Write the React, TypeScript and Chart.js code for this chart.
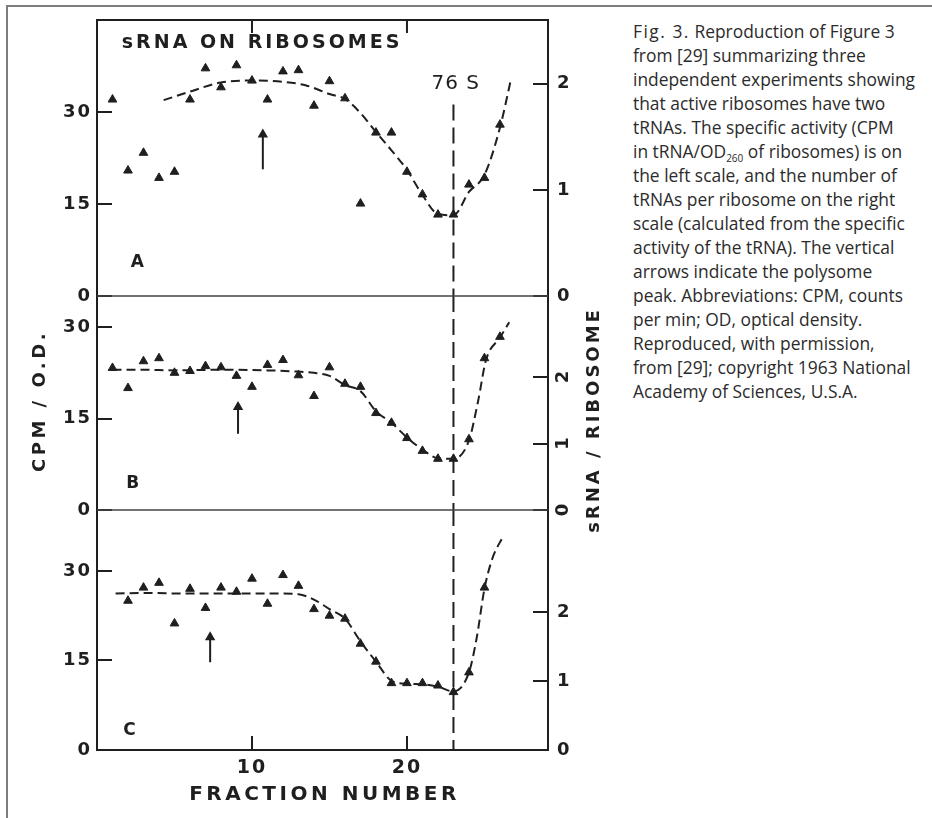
import React, { useEffect, useRef } from 'react';
import { Chart, registerables } from 'chart.js';

Chart.register(...registerables);

const INK = '#1f1f1f';

// ---- Panel A ----
const fractionsA = [1, 2, 3, 4, 5, 6, 7, 8, 9, 10, 11, 12, 13, 14, 15, 16, 17, 18, 19, 20, 21, 22, 23, 24, 25, 26];
const cpmA = [32.1, 20.5, 23.4, 19.3, 20.3, 32.1, 37.2, 34.1, 37.7, 35.2, 32.1, 36.7, 36.9, 31.1, 35.1, 32.3, 15.1, 26.7, 26.7, 20.3, 16.6, 13.3, 13.3, 18.2, 19.3, 28.0];
const curveFractionsA = [4.3, 6, 8, 10, 12, 13.5, 15, 16, 17, 18, 19, 20, 21, 22, 23, 24, 25, 26, 26.7];
const curveCpmA = [32.0, 33.4, 34.9, 35.2, 35.0, 34.4, 33.0, 32.2, 29.9, 26.8, 23.8, 20.6, 16.5, 13.4, 13.2, 17.0, 19.8, 27.5, 35.3];

// ---- Panel B ----
const fractionsB = [1, 2, 3, 4, 5, 6, 7, 8, 9, 10, 11, 12, 13, 14, 15, 16, 17, 18, 19, 20, 21, 22, 23, 24, 25, 26];
const cpmB = [23.3, 20.0, 24.4, 24.9, 22.5, 22.8, 23.6, 23.4, 22.0, 20.2, 23.8, 24.6, 22.1, 18.7, 23.4, 20.7, 20.2, 15.9, 14.3, 11.8, 9.7, 8.4, 8.4, 11.6, 24.9, 28.4];
const curveFractionsB = [1, 3, 5, 8, 11, 13, 14, 15, 16, 17, 18, 19, 20, 21, 22, 23, 24, 24.6, 25.1, 26, 26.6];
const curveCpmB = [23.0, 23.0, 22.9, 23.0, 22.9, 22.7, 22.5, 22.0, 20.5, 19.5, 16.2, 14.3, 11.9, 9.9, 8.5, 8.4, 11.4, 18.0, 24.6, 28.3, 30.8];

// ---- Panel C ----
const fractionsC = [2, 3, 4, 5, 6, 7, 8, 9, 10, 11, 12, 13, 14, 15, 16, 17, 18, 19, 20, 21, 22, 23, 24, 25];
const cpmC = [25.0, 27.2, 28.0, 21.2, 27.0, 23.8, 27.2, 26.5, 28.7, 24.5, 29.3, 27.5, 23.6, 22.5, 22.0, 17.8, 14.8, 11.2, 11.2, 11.2, 10.8, 9.7, 13.0, 27.2];
const curveFractionsC = [1.2, 3, 6, 9, 12, 13, 14, 15, 16, 17, 18, 19, 20, 21, 22, 23, 24, 24.5, 25, 25.5, 26.2];
const curveCpmC = [26.2, 26.3, 26.2, 26.2, 26.2, 26.1, 25.2, 23.6, 22.0, 18.2, 14.8, 11.6, 11.1, 11.0, 10.6, 9.8, 13.0, 18.8, 27.0, 32.0, 35.8];

// ---- polysome-peak arrows (A, B, C) ----
const arrowFraction = [10.7, 9.1, 7.3];
const arrowBase = [20.7, 12.5, 14.7];
const arrowTip = [26.4, 16.9, 18.9];

// ---- 76 S marker ----
const peak76S = 23;
const peak76STopA = 31.3;

// ---- axes ----
const xMin = 0;
const xMax = 29.1;
const xTicks = [10, 20];
const topTicks = [10, 20];
const leftTicks = [0, 15, 30];
const rightTicks = [0, 1, 2];
const leftMax = [45.1, 35.1, 40.2];
const rightMax = [2.6, 3.22, 3.48];
const panelLetters = ['A', 'B', 'C'];

const captionLines: React.ReactNode[] = [
  <><span style={{ letterSpacing: '1.5px' }}>Fig. 3.</span> Reproduction of Figure 3</>,
  'from [29] summarizing three',
  'independent experiments showing',
  'that active ribosomes have two',
  'tRNAs. The specific activity (CPM',
  <>in tRNA/OD<sub style={{ fontSize: '10px', lineHeight: 0 }}>260</sub> of ribosomes) is on</>,
  'the left scale, and the number of',
  'tRNAs per ribosome on the right',
  'scale (calculated from the specific',
  'activity of the tRNA). The vertical',
  'arrows indicate the polysome',
  'peak. Abbreviations: CPM, counts',
  'per min; OD, optical density.',
  'Reproduced, with permission,',
  'from [29]; copyright 1963 National',
  'Academy of Sciences, U.S.A.',
];

const FONT = 'DejaVu Sans';
const pts = (xs: number[], ys: number[]) => xs.map((x, i) => ({ x, y: ys[i] }));

const annotate = {
  id: 'annotate',
  beforeDraw(chart: any) {
    chart.ctx.letterSpacing = '2px';
  },
  afterDraw(chart: any) {
    const { ctx, chartArea, scales } = chart;
    const xs = scales.x;
    const ids = ['yA', 'yB', 'yC'];
    ctx.save();
    // top frame and panel separators
    ctx.strokeStyle = INK;
    ctx.lineWidth = 2;
    ctx.beginPath();
    ctx.moveTo(chartArea.left, chartArea.top);
    ctx.lineTo(chartArea.right, chartArea.top);
    topTicks.forEach((v) => {
      const px = xs.getPixelForValue(v);
      ctx.moveTo(px, chartArea.top);
      ctx.lineTo(px, chartArea.top + 13);
    });
    ctx.stroke();
    ctx.strokeStyle = '#444';
    ctx.lineWidth = 1.5;
    ctx.beginPath();
    ['yA', 'yB'].forEach((id) => {
      const py = scales[id].getPixelForValue(0);
      ctx.moveTo(chartArea.left, py);
      ctx.lineTo(chartArea.right, py);
    });
    ctx.stroke();

    const text = (s: string, x: number, y: number, font: string, spacing: string, align: string, rot = 0) => {
      ctx.save();
      ctx.font = font;
      ctx.letterSpacing = spacing;
      ctx.fillStyle = INK;
      ctx.textAlign = align;
      ctx.textBaseline = 'middle';
      ctx.translate(x, y);
      if (rot) ctx.rotate(rot);
      ctx.fillText(s, 0, 0);
      ctx.restore();
    };

    // rotated right-hand tick labels of panel B
    const rB = scales.rB;
    rightTicks.forEach((v) => {
      text(String(v), rB.left + 15, rB.getPixelForValue(v), `bold 18px "${FONT}"`, '0px', 'center', -Math.PI / 2);
    });

    const yA = scales.yA;
    text('sRNA ON RIBOSOMES', xs.getPixelForValue(1.6), yA.getPixelForValue(41.4), `bold 19px "${FONT}"`, '3px', 'left');
    text('76 S', xs.getPixelForValue(23.15), yA.getPixelForValue(34.7), `20px "${FONT}"`, '1px', 'center');
    const letterPos = [[2.6, 5.4], [2.3, 4.3], [2.1, 3.3]];
    ids.forEach((id, i) => {
      text(panelLetters[i], xs.getPixelForValue(letterPos[i][0]), scales[id].getPixelForValue(letterPos[i][1]), `bold 17px "${FONT}"`, '0px', 'center');
    });
    text('FRACTION NUMBER', (chartArea.left + chartArea.right) / 2 + 2, 795, `bold 20px "${FONT}"`, '3.5px', 'center');
    text('CPM / O.D.', 40, 401, `bold 18px "${FONT}"`, '3.5px', 'center', -Math.PI / 2);
    text('sRNA / RIBOSOME', 594, 420, `bold 18px "${FONT}"`, '3px', 'center', -Math.PI / 2);
    ctx.restore();
  },
};

export default function App() {
  const canvasRef = useRef<HTMLCanvasElement | null>(null);

  useEffect(() => {
    const canvas = canvasRef.current;
    if (!canvas) return;
    const ids = ['yA', 'yB', 'yC'];
    const fr = [fractionsA, fractionsB, fractionsC];
    const cpm = [cpmA, cpmB, cpmC];
    const cfr = [curveFractionsA, curveFractionsB, curveFractionsC];
    const ccpm = [curveCpmA, curveCpmB, curveCpmC];
    const heights = [276, 214, 240];

    const datasets: any[] = [];
    ids.forEach((id, i) => {
      datasets.push({
        type: 'scatter',
        data: pts(fr[i], cpm[i]),
        xAxisID: 'x',
        yAxisID: id,
        pointStyle: 'triangle',
        pointRadius: 5,
        pointBackgroundColor: INK,
        pointBorderColor: INK,
        pointBorderWidth: 1,
        showLine: false,
      });
      datasets.push({
        type: 'line',
        data: pts(cfr[i], ccpm[i]),
        xAxisID: 'x',
        yAxisID: id,
        borderColor: INK,
        borderWidth: 2,
        borderDash: [9, 5],
        pointRadius: 0,
        cubicInterpolationMode: 'monotone',
        fill: false,
      });
      datasets.push({
        type: 'line',
        data: [
          { x: arrowFraction[i], y: arrowBase[i] },
          { x: arrowFraction[i], y: arrowTip[i] },
        ],
        xAxisID: 'x',
        yAxisID: id,
        borderColor: INK,
        borderWidth: 2,
        pointRadius: [0, 4],
        pointStyle: 'triangle',
        pointBackgroundColor: INK,
        pointBorderColor: INK,
        fill: false,
      });
      datasets.push({
        type: 'line',
        data: [
          { x: peak76S, y: i === 0 ? peak76STopA : leftMax[i] },
          { x: peak76S, y: 0 },
        ],
        xAxisID: 'x',
        yAxisID: id,
        borderColor: INK,
        borderWidth: 2,
        borderDash: [16, 7],
        pointRadius: 0,
        fill: false,
      });
    });

    const tickFont = { family: FONT, size: 18, weight: 'bold' as const };
    const scales: any = {
      x: {
        type: 'linear',
        position: 'bottom',
        min: xMin,
        max: xMax,
        afterBuildTicks: (s: any) => {
          s.ticks = xTicks.map((v) => ({ value: v }));
        },
        afterFit: (s: any) => {
          s.height = 68;
          s.paddingLeft = 0;
          s.paddingRight = 0;
        },
        grid: { display: true, drawOnChartArea: false, drawTicks: true, tickLength: -14, color: INK, lineWidth: 2 },
        border: { display: true, color: INK, width: 2 },
        ticks: { font: { ...tickFont, size: 19 }, color: INK, padding: 21, maxRotation: 0, autoSkip: false },
      },
    };
    ids.forEach((id, i) => {
      scales[id] = {
        type: 'linear',
        position: 'left',
        stack: 'left',
        stackWeight: heights[i],
        weight: 3 - i,
        min: 0,
        max: leftMax[i],
        afterBuildTicks: (s: any) => {
          s.ticks = leftTicks.map((v) => ({ value: v }));
        },
        afterFit: (s: any) => {
          s.width = 97;
          s.paddingTop = 0;
          s.paddingBottom = 0;
        },
        grid: { display: true, drawOnChartArea: false, drawTicks: true, tickLength: -15, color: INK, lineWidth: 2 },
        border: { display: true, color: INK, width: 2 },
        ticks: { font: tickFont, color: INK, padding: 20, autoSkip: false },
      };
      const rid = 'r' + id.slice(1);
      scales[rid] = {
        type: 'linear',
        position: 'right',
        stack: 'right',
        stackWeight: heights[i],
        weight: i + 1,
        min: 0,
        max: rightMax[i],
        afterBuildTicks: (s: any) => {
          s.ticks = rightTicks.map((v) => ({ value: v }));
        },
        afterFit: (s: any) => {
          s.width = 72;
          s.paddingTop = 0;
          s.paddingBottom = 0;
        },
        grid: { display: true, drawOnChartArea: false, drawTicks: true, tickLength: -15, color: INK, lineWidth: 2 },
        border: { display: true, color: INK, width: 2 },
        ticks: { display: i !== 1, font: tickFont, color: INK, padding: 24, autoSkip: false },
      };
    });

    const chart = new Chart(canvas, {
      type: 'line',
      data: { datasets },
      options: {
        responsive: false,
        maintainAspectRatio: false,
        devicePixelRatio: 1,
        animation: false,
        layout: { padding: { left: 0, right: 0, top: 20, bottom: 0 } },
        plugins: { legend: { display: false }, tooltip: { enabled: false }, title: { display: false } },
        scales,
      },
      plugins: [annotate],
    } as any);
    return () => chart.destroy();
  }, []);

  return (
    <div style={{ position: 'absolute', left: 0, top: 0, width: 932, height: 818, background: '#fff', overflow: 'hidden' }}>
      <div
        style={{
          position: 'absolute',
          left: 6,
          top: 5,
          width: 930,
          height: 820,
          borderTop: '2px solid #7d7d7d',
          borderLeft: '2px solid #7d7d7d',
        }}
      />
      <canvas
        ref={canvasRef}
        width={620}
        height={818}
        style={{ position: 'absolute', left: 0, top: 0, width: 620, height: 818 }}
      />
      <div
        style={{
          position: 'absolute',
          left: 633,
          top: 19,
          fontFamily: '"Open Sans", sans-serif',
          fontSize: 17.4,
          lineHeight: '24px',
          color: '#2b2b2b',
          whiteSpace: 'nowrap',
        }}
      >
        {captionLines.map((l, i) => (
          <div key={i}>{l}</div>
        ))}
      </div>
    </div>
  );
}
